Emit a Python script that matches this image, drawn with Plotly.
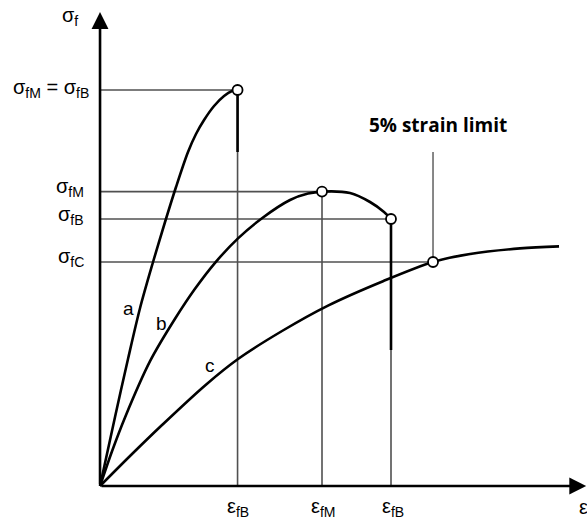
import plotly.graph_objects as go

# ---- data (strain in %, stress in arbitrary units) ----
eps_a = [0, 0.225, 0.420, 0.601, 0.796, 0.976, 1.141, 1.321, 1.441, 1.562, 1.712, 1.862, 1.982, 2.065]
sig_a = [0, 17.25, 31.75, 44.5, 56, 66, 74.75, 83.5, 88, 91.5, 95, 97.5, 98.75, 99]

eps_b = [0, 0.180, 0.375, 0.751, 1.126, 1.426, 1.727, 2.072, 2.432, 2.853, 3.123, 3.333, 3.754, 4.054, 4.264, 4.369]
sig_b = [0, 8.7, 17.15, 31.2, 41.8, 49.3, 55.8, 61.9, 66.95, 71.5, 73.1, 73.6, 73.25, 71, 68.5, 66.75]

eps_c = [0, 0.450, 0.931, 1.577, 2.072, 2.733, 3.423, 4.249, 5.0, 5.556, 6.306, 6.892]
sig_c = [0, 7.5, 15.25, 25.15, 31.75, 38.75, 45.1, 51.2, 56, 58, 59.4, 59.9]

# characteristic points
eps_fB_a, sig_fB_a = 2.065, 99
eps_fM_b, sig_fM_b = 3.333, 73.6
eps_fB_b, sig_fB_b = 4.369, 66.75
eps_limit, sig_fC = 5.0, 56
break_end_a = 83.5    # end of break drop of curve a
break_end_b = 34      # end of break drop of curve b
limit_top = 83.5      # top of 5% strain limit marker line

x_max, y_max = 7.30, 118.5
x_range = [-1.502, 7.312]
y_range = [-8.25, 121.5]

curve_labels = ["a", "b", "c"]
curve_label_pos = [(0.420, 44.5), (0.916, 40.75), (1.652, 30.25)]

GRAY = "#505050"
FONT = "Liberation Sans, Arial, sans-serif"

fig = go.Figure()

def seg(xs, ys, color=GRAY, width=1.6):
    fig.add_trace(go.Scatter(x=xs, y=ys, mode="lines",
                             line=dict(color=color, width=width),
                             hoverinfo="skip", showlegend=False))

# reference (gray) lines
seg([0, eps_fB_a], [sig_fB_a, sig_fB_a])
seg([0, eps_fM_b], [sig_fM_b, sig_fM_b])
seg([0, eps_fB_b], [sig_fB_b, sig_fB_b])
seg([0, eps_limit], [sig_fC, sig_fC])
seg([eps_fB_a, eps_fB_a], [0, sig_fB_a])
seg([eps_fM_b, eps_fM_b], [0, sig_fM_b])
seg([eps_fB_b, eps_fB_b], [0, sig_fB_b])
seg([eps_limit, eps_limit], [sig_fC, limit_top], color="#6a6a6a")

# break drops (thick)
seg([eps_fB_a, eps_fB_a], [sig_fB_a, break_end_a], color="black", width=2.6)
seg([eps_fB_b, eps_fB_b], [sig_fB_b, break_end_b], color="black", width=2.6)

# curves
for ex, sy in [(eps_a, sig_a), (eps_b, sig_b), (eps_c, sig_c)]:
    fig.add_trace(go.Scatter(x=ex, y=sy, mode="lines",
                             line=dict(color="black", width=2.6, shape="spline", smoothing=0.9),
                             hoverinfo="skip", showlegend=False))

# circles
fig.add_trace(go.Scatter(x=[eps_fB_a, eps_fM_b, eps_fB_b, eps_limit],
                         y=[sig_fB_a, sig_fM_b, sig_fB_b, sig_fC],
                         mode="markers",
                         marker=dict(size=10, color="white", line=dict(color="black", width=1.8)),
                         hoverinfo="skip", showlegend=False))

annotations = []
# axes with arrows
annotations.append(dict(x=x_max, y=0, ax=0, ay=0, xref="x", yref="y", axref="x", ayref="y",
                        showarrow=True, arrowhead=2, arrowsize=1.3, arrowwidth=2.6,
                        arrowcolor="black", text="", standoff=0))
annotations.append(dict(x=0, y=y_max, ax=0, ay=0, xref="x", yref="y", axref="x", ayref="y",
                        showarrow=True, arrowhead=2, arrowsize=1.3, arrowwidth=2.6,
                        arrowcolor="black", text="", standoff=0))

def label(x, y, text, xanchor="center", yanchor="middle", size=20, font=FONT, color="black"):
    annotations.append(dict(x=x, y=y, xref="x", yref="y", text=text, showarrow=False,
                            xanchor=xanchor, yanchor=yanchor,
                            font=dict(family=font, size=size, color=color)))

label(-0.30, 117.5, "σ<sub>f</sub>", xanchor="right")
label(-0.135, 99.5, "σ<sub>fM</sub> = σ<sub>fB</sub>", xanchor="right")
label(-0.21, 74.75, "σ<sub>fM</sub>", xanchor="right")
label(-0.21, 67.75, "σ<sub>fB</sub>", xanchor="right")
label(-0.21, 57.25, "σ<sub>fC</sub>", xanchor="right")

label(2.072, -5.25, "ε<sub>fB</sub>")
label(3.348, -5.25, "ε<sub>fM</sub>")
label(4.40, -5.25, "ε<sub>fB</sub>")
label(7.162, -5.25, "ε", xanchor="left")

for t, (lx, ly) in zip(curve_labels, curve_label_pos):
    label(lx, ly, t, size=19)

label(5.075, 90.25, "<b>5% strain limit</b>", size=19, font="Open Sans, sans-serif")

fig.update_layout(
    width=587, height=519,
    margin=dict(l=0, r=0, t=0, b=0),
    paper_bgcolor="white", plot_bgcolor="white",
    xaxis=dict(range=x_range, visible=False, fixedrange=True),
    yaxis=dict(range=y_range, visible=False, fixedrange=True),
    annotations=annotations,
    showlegend=False,
)

fig.write_html("out.html", config={"displayModeBar": False},
               post_script="document.body.style.margin='0';document.body.style.padding='0';document.body.style.overflow='hidden';")
